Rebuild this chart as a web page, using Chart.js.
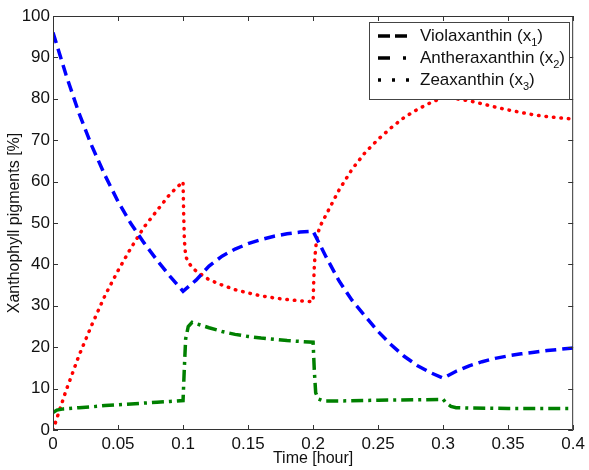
<!DOCTYPE html>
<html lang="en">
<head>
<meta charset="UTF-8">
<title>Xanthophyll pigments</title>
<script src="https://cdn.jsdelivr.net/npm/chart.js@4.4.1/dist/chart.umd.min.js"></script>
<style>
  html, body { margin: 0; padding: 0; background: #fff; }
  #wrap { width: 589px; height: 470px; }
</style>
</head>
<body>
<div id="wrap"><canvas id="pigChart"></canvas></div>
<script>
// values
const violaT = [0, 0.01, 0.02, 0.03, 0.04, 0.05, 0.06, 0.07, 0.08, 0.09, 0.1,
                0.11, 0.12, 0.13, 0.14, 0.15, 0.16, 0.17, 0.18, 0.19, 0.2,
                0.21, 0.22, 0.23, 0.24, 0.25, 0.26, 0.27, 0.28, 0.29, 0.3,
                0.31, 0.32, 0.33, 0.34, 0.35, 0.36, 0.37, 0.38, 0.39, 0.4];
const violaV = [96, 85.8, 76.5, 68.5, 61.5, 55.2, 49.8, 45.2, 41, 37.1, 33.5,
                36.2, 39.6, 42, 43.7, 45, 46, 46.8, 47.4, 47.8, 48,
                41.8, 36, 31.3, 27.5, 23.8, 20.6, 17.8, 15.6, 13.9, 12.5,
                14.2, 15.5, 16.5, 17.3, 17.9, 18.4, 18.8, 19.2, 19.5, 19.8];

const antherT = [0, 0.003, 0.008, 0.02, 0.03, 0.04, 0.05, 0.06, 0.07, 0.08, 0.09, 0.1,
                 0.101, 0.102, 0.104, 0.107, 0.11, 0.12, 0.13, 0.14, 0.15, 0.16, 0.17, 0.18, 0.19, 0.2,
                 0.201, 0.202, 0.204, 0.208, 0.22, 0.25, 0.28, 0.3,
                 0.302, 0.306, 0.31, 0.32, 0.35, 0.4];
const antherV = [4.2, 4.8, 5.1, 5.4, 5.6, 5.9, 6.1, 6.3, 6.5, 6.7, 6.9, 7.1,
                 15, 22, 25, 26, 25.7, 24.7, 23.8, 23.1, 22.6, 22.2, 21.9, 21.6, 21.4, 21.2,
                 14, 9, 7.5, 7, 7, 7.2, 7.3, 7.4,
                 6.6, 5.7, 5.4, 5.3, 5.2, 5.2];

const zeaT = [0, 0.01, 0.02, 0.03, 0.04, 0.05, 0.06, 0.07, 0.08, 0.09, 0.1,
              0.1005, 0.101, 0.102, 0.104, 0.107, 0.11, 0.12, 0.13, 0.14, 0.15, 0.16, 0.17, 0.18, 0.19, 0.2,
              0.2005, 0.201, 0.202, 0.203, 0.205, 0.21, 0.22, 0.23, 0.24, 0.25, 0.26, 0.27, 0.28, 0.29, 0.3,
              0.31, 0.32, 0.33, 0.34, 0.35, 0.36, 0.37, 0.38, 0.39, 0.4];
const zeaV = [0, 9.5, 18, 25.5, 32.5, 38.5, 44, 49, 53, 57, 60,
              52, 46, 42, 40.5, 39.3, 38.4, 36.3, 35, 33.9, 33.1, 32.4, 31.9, 31.5, 31.2, 31,
              36, 40, 44, 46.5, 49, 52, 58, 63, 67, 70.2, 73, 75.5, 77.4, 79, 80.3,
              80, 79.5, 78.8, 78, 77.3, 76.7, 76.1, 75.7, 75.4, 75.1];

const seriesNames = ['Violaxanthin', 'Antheraxanthin', 'Zeaxanthin'];
const seriesSubs = ['1', '2', '3'];

const xTicks = [0, 0.05, 0.1, 0.15, 0.2, 0.25, 0.3, 0.35, 0.4];
const xTickLabels = ['0', '0.05', '0.1', '0.15', '0.2', '0.25', '0.3', '0.35', '0.4'];
const yTicks = [0, 10, 20, 30, 40, 50, 60, 70, 80, 90, 100];
const yTickLabels = ['0', '10', '20', '30', '40', '50', '60', '70', '80', '90', '100'];

const FONT = "'Liberation Sans', Arial, Helvetica, sans-serif";
const dashStyles = [[11, 6], [12, 5, 3, 5], [0.5, 7]];
// the short samples in the legend box
const legendDash = [[12, 5], [12, 13, 3, 100], [3, 11]];

function pts(t, v) {
    return t.map((x, i) => ({ x: x, y: v[i] }));
}

// box round the plot with inward ticks on all four sides
const framePlugin = {
    id: 'frame',
    afterDatasetsDraw(chart) {
        const { ctx, chartArea: a, scales } = chart;
        ctx.save();
        ctx.strokeStyle = '#333';
        ctx.lineWidth = 1;
        ctx.beginPath();
        ctx.rect(a.left + 0.5, a.top + 0.5, a.right - a.left - 1, a.bottom - a.top - 1);
        const len = 5;
        xTicks.forEach(v => {
            const px = Math.round(scales.x.getPixelForValue(v)) + 0.5;
            ctx.moveTo(px, a.bottom); ctx.lineTo(px, a.bottom - len);
            ctx.moveTo(px, a.top); ctx.lineTo(px, a.top + len);
        });
        yTicks.forEach(v => {
            const py = Math.round(scales.y.getPixelForValue(v)) + 0.5;
            ctx.moveTo(a.left, py); ctx.lineTo(a.left + len, py);
            ctx.moveTo(a.right, py); ctx.lineTo(a.right - len, py);
        });
        ctx.stroke();
        ctx.restore();
    }
};

// MATLAB-ish legend box with subscripts
const legendPlugin = {
    id: 'legendBox',
    afterDraw(chart) {
        const ctx = chart.ctx;
        const bx = 369.5, by = 22.5, bw = 200, bh = 77;
        ctx.save();
        ctx.fillStyle = '#fff';
        ctx.fillRect(bx, by, bw, bh);
        ctx.strokeStyle = '#444';
        ctx.lineWidth = 1;
        ctx.strokeRect(bx, by, bw, bh);
        seriesNames.forEach((name, i) => {
            const y = 36 + i * 22;
            ctx.strokeStyle = '#000';
            ctx.lineWidth = 3.5;
            ctx.lineCap = 'butt';
            ctx.setLineDash(legendDash[i]);
            ctx.beginPath();
            ctx.moveTo(378, y);
            ctx.lineTo(410, y);
            ctx.stroke();
            ctx.setLineDash([]);

            ctx.fillStyle = '#111';
            ctx.textBaseline = 'middle';
            ctx.textAlign = 'left';
            ctx.font = '17px ' + FONT;
            let x = 420;
            const main = name + ' (x';
            ctx.fillText(main, x, y);
            x += ctx.measureText(main).width;
            ctx.font = '11px ' + FONT;
            ctx.fillText(seriesSubs[i], x, y + 7);
            x += ctx.measureText(seriesSubs[i]).width;
            ctx.font = '17px ' + FONT;
            ctx.fillText(')', x, y);
        });
        ctx.restore();
    }
};

Chart.defaults.font.family = FONT;
Chart.defaults.color = '#111';

const ctx = document.getElementById('pigChart').getContext('2d');
const chart = new Chart(ctx, {
    type: 'line',
    data: {
        datasets: [
            { label: seriesNames[0], data: pts(violaT, violaV), borderColor: '#0000ff',
              borderWidth: 3.5, borderDash: dashStyles[0] },
            { label: seriesNames[1], data: pts(antherT, antherV), borderColor: '#008000',
              borderWidth: 3.5, borderDash: dashStyles[1] },
            { label: seriesNames[2], data: pts(zeaT, zeaV), borderColor: '#ff0000',
              borderWidth: 3.5, borderDash: dashStyles[2], borderCapStyle: 'round' }
        ]
    },
    options: {
        responsive: true,
        maintainAspectRatio: false,
        animation: false,
        layout: { padding: { top: 16, right: 14, left: 0, bottom: 0 } },
        elements: { point: { radius: 0 }, line: { tension: 0, fill: false } },
        plugins: { legend: { display: false }, tooltip: { enabled: false } },
        scales: {
            x: {
                type: 'linear',
                min: 0, max: 0.4,
                grid: { display: false, drawTicks: false },
                border: { display: false },
                afterBuildTicks: s => { s.ticks = xTicks.map(v => ({ value: v })); },
                afterFit: s => { s.height = 40; },
                ticks: {
                    autoSkip: false, maxRotation: 0, padding: 4,
                    font: { size: 17 }, color: '#111',
                    callback: (v, i) => xTickLabels[i]
                },
                title: { display: true, text: 'Time [hour]', font: { size: 16 },
                         color: '#111', padding: { top: 0, bottom: 2 } }
            },
            y: {
                min: 0, max: 100,
                grid: { display: false, drawTicks: false },
                border: { display: false },
                afterBuildTicks: s => { s.ticks = yTicks.map(v => ({ value: v })); },
                afterFit: s => { s.width = 53; },
                ticks: {
                    autoSkip: false, padding: 3,
                    font: { size: 17 }, color: '#111',
                    callback: (v, i) => yTickLabels[i]
                },
                title: { display: true, text: 'Xanthophyll pigments [%]', font: { size: 16 },
                         color: '#111', padding: { top: 5, bottom: 0 } }
            }
        }
    },
    plugins: [framePlugin, legendPlugin]
});
</script>
</body>
</html>
